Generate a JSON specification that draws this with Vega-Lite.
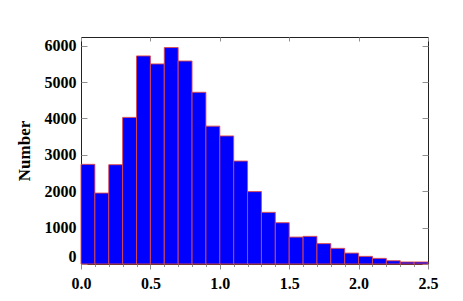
{
  "$schema": "https://vega.github.io/schema/vega-lite/v6.json",
  "width": 347,
  "height": 227,
  "autosize": "none",
  "padding": {"left": 81, "top": 37, "right": 35, "bottom": 37},
  "background": "white",
  "config": {
    "view": {"stroke": "#222222", "strokeWidth": 1},
    "axis": {
      "domain": false,
      "grid": false,
      "labelFlush": false,
      "labelFont": "Liberation Serif",
      "labelFontWeight": "bold",
      "labelFontSize": 16,
      "labelColor": "black",
      "tickColor": "#909090",
      "tickWidth": 1,
      "titleFont": "Liberation Serif",
      "titleFontWeight": "bold",
      "titleFontSize": 17,
      "titleColor": "black"
    }
  },
  "data": {
    "values": [
      {"bin_start": 0.0, "bin_end": 0.1, "count": 2740},
      {"bin_start": 0.1, "bin_end": 0.2, "count": 1950},
      {"bin_start": 0.2, "bin_end": 0.3, "count": 2730},
      {"bin_start": 0.3, "bin_end": 0.4, "count": 4030},
      {"bin_start": 0.4, "bin_end": 0.5, "count": 5720},
      {"bin_start": 0.5, "bin_end": 0.6, "count": 5500},
      {"bin_start": 0.6, "bin_end": 0.7, "count": 5950},
      {"bin_start": 0.7, "bin_end": 0.8, "count": 5580},
      {"bin_start": 0.8, "bin_end": 0.9, "count": 4720},
      {"bin_start": 0.9, "bin_end": 1.0, "count": 3790},
      {"bin_start": 1.0, "bin_end": 1.1, "count": 3520},
      {"bin_start": 1.1, "bin_end": 1.2, "count": 2830},
      {"bin_start": 1.2, "bin_end": 1.3, "count": 1990},
      {"bin_start": 1.3, "bin_end": 1.4, "count": 1420},
      {"bin_start": 1.4, "bin_end": 1.5, "count": 1135},
      {"bin_start": 1.5, "bin_end": 1.6, "count": 740},
      {"bin_start": 1.6, "bin_end": 1.7, "count": 760},
      {"bin_start": 1.7, "bin_end": 1.8, "count": 560},
      {"bin_start": 1.8, "bin_end": 1.9, "count": 430},
      {"bin_start": 1.9, "bin_end": 2.0, "count": 300},
      {"bin_start": 2.0, "bin_end": 2.1, "count": 210},
      {"bin_start": 2.1, "bin_end": 2.2, "count": 155},
      {"bin_start": 2.2, "bin_end": 2.3, "count": 90},
      {"bin_start": 2.3, "bin_end": 2.4, "count": 55},
      {"bin_start": 2.4, "bin_end": 2.5, "count": 55}
    ]
  },
  "layer": [
    {
      "mark": {"type": "bar", "fill": "#0000ff", "stroke": "#e04848", "strokeWidth": 0.9},
      "encoding": {
        "x": {
          "field": "bin_start", "type": "quantitative",
          "scale": {"domain": [0, 2.5], "nice": false, "zero": false, "padding": 0},
          "axis": {"orient": "bottom", "values": [0, 0.5, 1, 1.5, 2, 2.5], "format": ".1f", "tickSize": 5, "labelPadding": 6, "title": null}
        },
        "x2": {"field": "bin_end"},
        "y": {
          "field": "count", "type": "quantitative",
          "scale": {"domain": [0, 6240], "nice": false},
          "axis": {"orient": "left", "values": [0, 1000, 2000, 3000, 4000, 5000, 6000], "format": "d", "tickSize": -6, "labelPadding": 11, "labelFlush": true, "title": "Number", "titlePadding": 11}
        },
        "y2": {"datum": 0}
      }
    },
    {
      "mark": {"type": "bar", "opacity": 0},
      "encoding": {
        "x": {"field": "bin_start", "type": "quantitative",
          "axis": {"orient": "top", "values": [0, 0.5, 1, 1.5, 2, 2.5], "tickSize": -4, "labels": false, "title": null}},
        "x2": {"field": "bin_end"},
        "y": {"field": "count", "type": "quantitative",
          "axis": {"orient": "right", "values": [0, 1000, 2000, 3000, 4000, 5000, 6000], "tickSize": -6, "labels": false, "title": null}},
        "y2": {"datum": 0}
      }
    },
    {
      "mark": {"type": "bar", "opacity": 0},
      "encoding": {
        "x": {"field": "bin_start", "type": "quantitative",
          "axis": {"orient": "bottom", "values": [0.1, 0.2, 0.3, 0.4, 0.6, 0.7, 0.8, 0.9, 1.1, 1.2, 1.3, 1.4, 1.6, 1.7, 1.8, 1.9, 2.1, 2.2, 2.3, 2.4], "tickSize": 2.5, "labels": false, "title": null}},
        "x2": {"field": "bin_end"},
        "y": {"field": "count", "type": "quantitative", "axis": null},
        "y2": {"datum": 0}
      }
    }
  ],
  "resolve": {"axis": {"x": "independent", "y": "independent"}}
}
